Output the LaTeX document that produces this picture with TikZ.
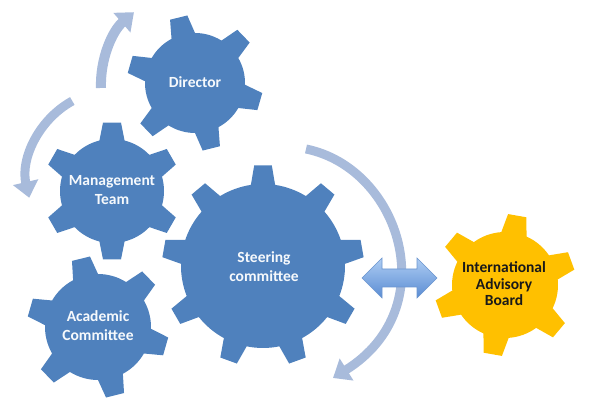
\documentclass[tikz,border=0pt]{standalone}
\usepackage{fontspec}
\setmainfont{Carlito}
\usetikzlibrary{arrows.meta}
\definecolor{gearblue}{HTML}{4F81BD}
\definecolor{gearyellow}{HTML}{FFC000}
\definecolor{arcblue}{RGB}{168,187,219}
\definecolor{dblight}{HTML}{AECDF3}
\definecolor{dbdark}{HTML}{5A8CD3}
\definecolor{dbedge}{HTML}{6C96CF}
\newcommand\gearshape[9]{%
  \begin{scope}[shift={(#1,#2)}]
  \fill[#9] ({#6-#7}:#4) \foreach \k [evaluate=\k as \a using #6+(\k-1)*360/#3, evaluate=\k as \b using #6+\k*360/#3] in {1,...,#3} { -- ({\a-#8}:#5) -- ({\a+#8}:#5) -- ({\a+#7}:#4) arc[start angle={\a+#7}, end angle={\b-#7}, radius=#4] } -- cycle;
  \end{scope}}
\tikzset{
  bluegear/.style={fill=gearblue},
  yellowgear/.style={fill=gearyellow},
  geartext/.style={font=\bfseries\fontsize{15.5}{19}\selectfont, text=white!95!gearblue, align=center},
  iabtext/.style={font=\bfseries\fontsize{15.5}{16.5}\selectfont, text=black!90, align=center},
  cyclearrow/.style={draw=arcblue, line width=10pt, -{Triangle[width=25pt,length=16pt]}},
  linkarrow/.style={draw=dbedge, line width=0.6pt, top color=dblight, bottom color=dbdark}
}
\begin{document}
\begin{tikzpicture}[x=1pt,y=1pt]
\useasboundingbox (0,0) rectangle (602,403);
% gears
\gearshape{195}{320}{6}{50}{68}{104}{14}{7.5}{bluegear}
\gearshape{112}{212}{6}{52}{69}{90}{14}{7.5}{bluegear}
\gearshape{98}{76}{6}{53}{71}{104}{14}{7.5}{bluegear}
\gearshape{263}{137}{9}{82}{101}{90}{8.5}{5}{bluegear}
\gearshape{505}{118}{6}{53}{71}{80}{14}{7.5}{yellowgear}
% labels
\node[geartext] (dir) at (195,321) {Director};
\node[geartext] (mgmt) at (112,213) {Management\\Team};
\node[geartext] (steer) at (264,136) {Steering\\committee};
\node[geartext] (acad) at (98,77) {Academic\\Committee};
\node[iabtext] (iab) at (504,119) {International\\Advisory\\Board};
% cycle arrows
\coordinate (c1) at (101,315);
\coordinate (c2) at (72.3,302);
\coordinate (c3s) at (306,254);
\coordinate (c3e) at (333,25);
\draw[cyclearrow] (c1) arc[start angle=182, end angle=131, radius=96];
\draw[cyclearrow, line width=9pt] (c2) arc[start angle=119, end angle=193, radius=88];
\draw[cyclearrow, line width=9pt] (c3s) .. controls (400,235) and (445,95) .. (c3e);
% double arrow between steering committee and advisory board
\coordinate (dl) at (362,125);
\coordinate (dr) at (437,125);
\path[linkarrow] (dl) -- ++(20,20) -- ++(0,-11) -- ++(35,0) -- ++(0,11) -- (dr) -- ++(-20,-20) -- ++(0,11) -- ++(-35,0) -- ++(0,-11) -- cycle;
\end{tikzpicture}
\end{document}
